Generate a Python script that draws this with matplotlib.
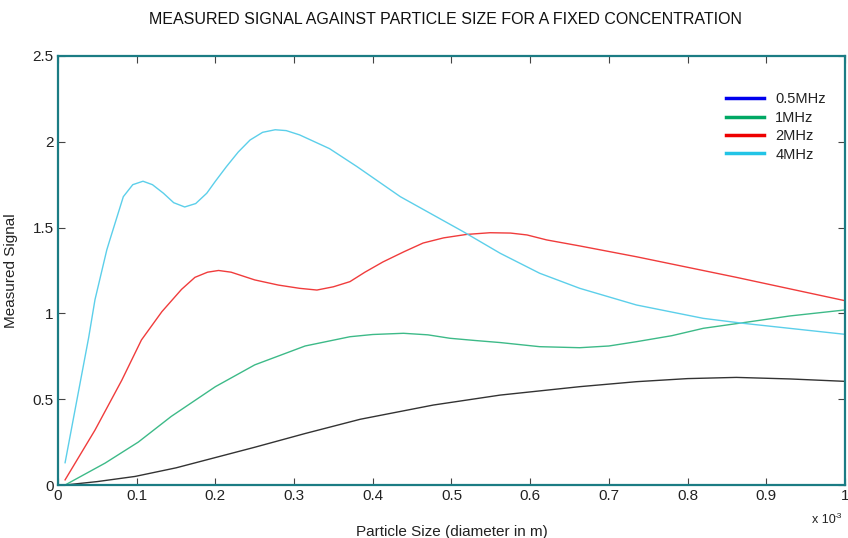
import matplotlib
matplotlib.use("Agg")
import matplotlib.pyplot as plt
from matplotlib.lines import Line2D

plt.rcParams['font.family'] = ['Liberation Sans', 'DejaVu Sans']

# particle size in units of 1e-3 m
x_05 = [0.009, 0.05, 0.098, 0.15, 0.2, 0.25, 0.314, 0.384, 0.477, 0.562, 0.663, 0.735, 0.80, 0.862, 0.93, 1.0]
y_05 = [0.0, 0.02, 0.05, 0.10, 0.16, 0.22, 0.30, 0.383, 0.466, 0.524, 0.573, 0.602, 0.62, 0.627, 0.618, 0.604]

x_1 = [0.009, 0.06, 0.102, 0.144, 0.2, 0.25, 0.314, 0.371, 0.40, 0.439, 0.47, 0.498, 0.53, 0.562, 0.612,
       0.663, 0.70, 0.735, 0.78, 0.82, 0.871, 0.93, 1.0]
y_1 = [0.0, 0.128, 0.25, 0.40, 0.573, 0.70, 0.81, 0.864, 0.877, 0.884, 0.875, 0.855, 0.842, 0.83, 0.806,
       0.80, 0.81, 0.835, 0.87, 0.913, 0.946, 0.985, 1.02]

x_2 = [0.009, 0.047, 0.081, 0.106, 0.132, 0.157, 0.174, 0.19, 0.204, 0.22, 0.25, 0.28, 0.307, 0.329, 0.35,
       0.371, 0.39, 0.413, 0.44, 0.464, 0.49, 0.519, 0.549, 0.575, 0.596, 0.621, 0.663, 0.735, 0.862, 1.0]
y_2 = [0.03, 0.32, 0.61, 0.845, 1.01, 1.14, 1.21, 1.24, 1.25, 1.24, 1.195, 1.165, 1.146, 1.136, 1.155,
       1.185, 1.24, 1.30, 1.36, 1.41, 1.44, 1.46, 1.47, 1.468, 1.457, 1.428, 1.393, 1.33, 1.21, 1.074]

x_4 = [0.009, 0.039, 0.047, 0.062, 0.066, 0.083, 0.095, 0.108, 0.12, 0.134, 0.147, 0.161, 0.175, 0.189, 0.2,
       0.214, 0.229, 0.244, 0.26, 0.276, 0.29, 0.307, 0.345, 0.38, 0.435, 0.515, 0.562, 0.612, 0.663,
       0.735, 0.82, 0.871, 1.0]
y_4 = [0.13, 0.86, 1.08, 1.37, 1.43, 1.68, 1.75, 1.77, 1.75, 1.70, 1.645, 1.62, 1.64, 1.70, 1.77,
       1.855, 1.94, 2.01, 2.055, 2.07, 2.065, 2.04, 1.96, 1.855, 1.68, 1.476, 1.35, 1.234, 1.146,
       1.049, 0.971, 0.942, 0.878]

labels = ['0.5MHz', '1MHz', '2MHz', '4MHz']
line_colors = ['#333333', '#3dba88', '#f03c3c', '#5ccfea']
legend_colors = ['#0000ee', '#00a864', '#ee0000', '#22c4e6']

fig = plt.figure(figsize=(8.48, 5.38), dpi=100)
ax = fig.add_axes([0.0684, 0.0985, 0.928, 0.7975])

for xs, ys, c in zip([x_05, x_1, x_2, x_4], [y_05, y_1, y_2, y_4], line_colors):
    ax.plot(xs, ys, color=c, lw=1.0)

ax.set_xlim(0, 1)
ax.set_ylim(0, 2.5)
ax.set_xticks([0, 0.1, 0.2, 0.3, 0.4, 0.5, 0.6, 0.7, 0.8, 0.9, 1])
ax.set_xticklabels(['0', '0.1', '0.2', '0.3', '0.4', '0.5', '0.6', '0.7', '0.8', '0.9', '1'])
ax.set_yticks([0, 0.5, 1, 1.5, 2, 2.5])
ax.set_yticklabels(['0', '0.5', '1', '1.5', '2', '2.5'])
ax.tick_params(direction='in', length=5, width=0.8, color='#444444', labelsize=11,
               labelcolor='#222222', top=True, right=True, pad=3)
for s in ax.spines.values():
    s.set_color('#1b7c84')
    s.set_linewidth(1.6)

ax.set_xlabel('Particle Size (diameter in m)', fontsize=11, color='#222222')
ax.xaxis.set_label_coords(0.5, -0.093)
ax.set_ylabel('Measured Signal', fontsize=11, color='#222222')
ax.yaxis.set_label_coords(-0.051, 0.5)
fig.text(812 / 848, 1 - 520 / 538, 'x 10', fontsize=9, color='#222222', ha='left', va='center')
fig.text(835 / 848, 1 - 516 / 538, '-3', fontsize=6, color='#222222', ha='left', va='center')
fig.suptitle('MEASURED SIGNAL AGAINST PARTICLE SIZE FOR A FIXED CONCENTRATION',
             x=0.525, y=0.978, fontsize=11.5, color='#111111')

handles = [Line2D([0], [0], color=c, lw=2.5) for c in legend_colors]
ax.legend(handles, labels, loc='upper right', bbox_to_anchor=(0.985, 0.932), frameon=False,
          borderpad=0, fontsize=10.5, handlelength=2.6, handletextpad=0.8, labelspacing=0.3,
          labelcolor='#222222')

fig.savefig('out.png', dpi=100)
